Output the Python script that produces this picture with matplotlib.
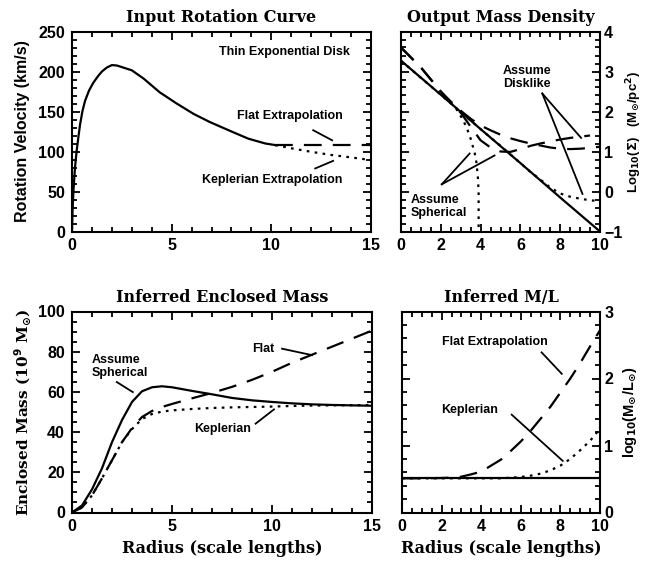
import matplotlib
matplotlib.use('Agg')
import matplotlib.pyplot as plt
from matplotlib.ticker import MultipleLocator

plt.rcParams['font.family'] = ['Liberation Sans', 'DejaVu Sans']
plt.rcParams['font.weight'] = 'bold'
plt.rcParams['mathtext.fontset'] = 'dejavusans'
plt.rcParams['mathtext.default'] = 'bf'

# ---- Input rotation curve (km/s vs scale lengths)
rc_r = [0, 0.03, 0.07, 0.15, 0.23, 0.32, 0.4, 0.52, 0.65, 0.85, 1.07, 1.3,
        1.5, 1.75, 2.0, 2.25, 2.5, 3.0, 3.6, 4.4, 5.25, 6.1, 6.9, 7.45, 8.0,
        8.85, 9.7, 10.2]
rc_v = [0, 28, 50, 80, 100, 118, 133, 150, 163, 176, 186, 194, 200, 205,
        208, 207.5, 205.5, 201.5, 191, 174, 160, 147, 137, 131, 125, 116, 110,
        108]
flat_r = [10.2, 15]
flat_v = [108, 108]
kep_r = [10.2, 11, 12, 13, 14, 15]
kep_v = [108, 104, 99.6, 95.7, 92.6, 89.3]

# ---- Output mass density, log10(Sigma)
true_r = [0, 2, 4, 6, 8, 10]
true_sig = [3.27, 2.42, 1.56, 0.71, -0.15, -1.0]
disk_flat_r = [0, 0.5, 1, 1.5, 2, 2.5, 3, 3.5, 4, 4.5, 5, 5.5, 6, 6.5, 7,
               7.5, 8, 8.5, 9, 9.5, 10]
disk_flat_sig = [3.60, 3.35, 3.10, 2.80, 2.50, 2.25, 2.02, 1.82, 1.65, 1.53,
                 1.42, 1.33, 1.26, 1.20, 1.15, 1.10, 1.07, 1.06, 1.07, 1.09, 1.12]
sph_flat_r = [0, 0.5, 1, 1.5, 2, 2.5, 3, 3.5, 4, 4.5, 5, 5.5, 6, 6.5, 7,
              7.5, 8, 8.5, 9, 9.5]
sph_flat_sig = [3.60, 3.35, 3.10, 2.80, 2.50, 2.22, 1.97, 1.62, 1.28, 1.10,
                1.00, 0.99, 1.06, 1.14, 1.20, 1.25, 1.30, 1.34, 1.37, 1.40]
sph_kep_r = [2.5, 2.8, 3.1, 3.3, 3.5, 3.7, 3.8, 3.87, 3.9, 3.9]
sph_kep_sig = [2.22, 2.05, 1.80, 1.60, 1.32, 0.97, 0.70, 0.30, 0.0, -1.0]
disk_kep_r = [0, 1, 2, 3, 4, 5, 6, 6.5, 7, 7.5, 8, 8.5, 9, 9.5, 10]
disk_kep_sig = [3.27, 2.84, 2.42, 1.99, 1.56, 1.14, 0.71, 0.49, 0.30, 0.10,
                -0.05, -0.13, -0.18, -0.22, -0.24]

# ---- Inferred enclosed mass (1e9 Msun)
mass_r = [0, 0.5, 1, 1.5, 2, 2.5, 3, 3.5, 4, 4.5, 5, 6, 7, 8, 9, 10, 11, 12,
          13, 14, 15]
mass_sph = [0, 3.5, 11.5, 22, 35, 46, 55, 60.3, 62.3, 62.8, 62.3, 60.5, 58.8,
            57, 55.8, 55, 54.3, 53.8, 53.5, 53.3, 53.1]
mass_flat = [0, 2.5, 8.5, 17, 26, 35, 42, 47.5, 50.5, 52.5, 54, 56.8, 59.5,
             62.5, 66, 70, 74.5, 78.5, 82.5, 86.5, 90.5]
mass_kep = [0, 2.5, 8.5, 17, 26, 35, 41.5, 46.5, 49, 50.2, 50.8, 51.5, 52,
            52.3, 52.5, 52.7, 53, 53.2, 53.3, 53.4, 53.5]

# ---- Inferred M/L
ml_r = [0, 1, 2, 2.5, 3, 3.5, 4, 4.5, 5, 5.5, 6, 6.5, 7, 7.5, 8, 8.5, 9, 9.5, 10]
ml_true = [0.51] * len(ml_r)
ml_flat = [0.51, 0.51, 0.515, 0.52, 0.535, 0.57, 0.61, 0.70, 0.79, 0.92, 1.06,
           1.22, 1.40, 1.58, 1.79, 2.0, 2.23, 2.48, 2.72]
ml_kep = [0.51, 0.51, 0.51, 0.51, 0.51, 0.51, 0.51, 0.51, 0.51, 0.52, 0.53,
          0.55, 0.58, 0.63, 0.70, 0.80, 0.93, 1.07, 1.25]

W, H = 646, 565
fig = plt.figure(figsize=(W / 100, H / 100), dpi=100)


def box(l, r, t, b):
    return [l / W, 1 - b / H, (r - l) / W, (b - t) / H]


ax1 = fig.add_axes(box(72, 371, 31.5, 231.5))
ax2 = fig.add_axes(box(401, 600, 31.5, 231.5))
ax3 = fig.add_axes(box(72, 372, 311.5, 512.5))
ax4 = fig.add_axes(box(402, 600, 311.5, 512.5))

lw = 1.6
dash = (0, (8, 5))
dot = (0, (1.2, 2.4))
tfont = dict(family='DejaVu Serif', weight='bold', size=11.5)
afont = dict(size=9, weight='bold')


def style(ax, xmaj, xmin, ymaj, ymin, right=False):
    for s in ax.spines.values():
        s.set_linewidth(1.5)
    ax.xaxis.set_major_locator(MultipleLocator(xmaj))
    ax.xaxis.set_minor_locator(MultipleLocator(xmin))
    ax.yaxis.set_major_locator(MultipleLocator(ymaj))
    ax.yaxis.set_minor_locator(MultipleLocator(ymin))
    ax.tick_params(which='both', direction='in', top=True, right=True,
                   labelsize=11.5, width=1.3, pad=5)
    ax.tick_params(which='major', length=6)
    ax.tick_params(which='minor', length=3.5)
    if right:
        ax.tick_params(axis='y', labelleft=False, labelright=True, pad=3)
    for lab in ax.get_xticklabels() + ax.get_yticklabels():
        lab.set_fontweight('bold')


# panel 1
ax1.plot(rc_r, rc_v, color='black', lw=lw)
ax1.plot(flat_r, flat_v, color='black', lw=lw, linestyle=dash)
ax1.plot(kep_r, kep_v, color='black', lw=lw, linestyle=dot)
ax1.set_xlim(0, 15)
ax1.set_ylim(0, 250)
style(ax1, 5, 1, 50, 10)
ax1.set_title('Input Rotation Curve', pad=7, **tfont)
ax1.set_ylabel('Rotation Velocity (km/s)', fontsize=11.5, fontweight='bold', labelpad=6)
ax1.text(13.95, 224, 'Thin Exponential Disk', ha='right', va='center', **afont)
ax1.text(13.6, 144, 'Flat Extrapolation', ha='right', va='center', **afont)
ax1.text(13.55, 64, 'Keplerian Extrapolation', ha='right', va='center', **afont)
ax1.plot([12.1, 13.05], [126.6, 114], color='black', lw=1.3)
ax1.plot([12.2, 13.1], [78.8, 88.3], color='black', lw=1.3)

# panel 2
ax2.plot(true_r, true_sig, color='black', lw=lw)
ax2.plot(disk_flat_r, disk_flat_sig, color='black', lw=lw, linestyle=dash)
ax2.plot(sph_flat_r, sph_flat_sig, color='black', lw=lw, linestyle=dash)
ax2.plot(sph_kep_r, sph_kep_sig, color='black', lw=lw, linestyle=dot)
ax2.plot(disk_kep_r, disk_kep_sig, color='black', lw=lw, linestyle=dot)
ax2.set_xlim(0, 10)
ax2.set_ylim(-1, 4)
style(ax2, 2, 0.5, 1, 0.2, right=True)
ax2.set_title('Output Mass Density', pad=7, **tfont)
ax2.yaxis.set_label_position('right')
ax2.set_ylabel(r'Log$_{10}$($\Sigma$)   (M$_{\odot}$/pc$^2$)', fontsize=9.5,
               fontweight='bold', labelpad=1)
ax2.text(6.33, 2.85, 'Assume\nDisklike', ha='center', va='center',
         linespacing=1.05, **afont)
ax2.plot([7.1, 9.05], [2.45, 1.34], color='black', lw=1.3)
ax2.plot([7.1, 9.12], [2.45, -0.06], color='black', lw=1.3)
ax2.text(0.5, -0.37, 'Assume\nSpherical', ha='left', va='center',
         linespacing=1.05, **afont)
ax2.plot([2.05, 3.45], [0.18, 0.95], color='black', lw=1.3)
ax2.plot([2.05, 4.7], [0.18, 0.9], color='black', lw=1.3)

# panel 3
ax3.plot(mass_r, mass_sph, color='black', lw=lw)
ax3.plot(mass_r, mass_flat, color='black', lw=lw, linestyle=dash)
ax3.plot(mass_r, mass_kep, color='black', lw=lw, linestyle=dot)
ax3.set_xlim(0, 15)
ax3.set_ylim(0, 100)
style(ax3, 5, 1, 20, 5)
ax3.set_title('Inferred Enclosed Mass', pad=7, **tfont)
ax3.set_ylabel(r'Enclosed Mass (10$^9$ M$_{\odot}$)', family='DejaVu Serif',
               fontsize=11, fontweight='bold', labelpad=4)
ax3.set_xlabel('Radius (scale lengths)', family='DejaVu Serif', fontsize=11.5,
               fontweight='bold', labelpad=4)
ax3.text(1.0, 72.7, 'Assume\nSpherical', ha='left', va='center',
         linespacing=1.05, **afont)
ax3.plot([2.24, 3.04], [64.9, 59.9], color='black', lw=1.3)
ax3.text(9.0, 81.5, 'Flat', ha='left', va='center', **afont)
ax3.plot([10.5, 12.0], [81.5, 78.3], color='black', lw=1.3)
ax3.text(6.1, 41.7, 'Keplerian', ha='left', va='center', **afont)
ax3.plot([9.18, 10.1], [44.2, 51.3], color='black', lw=1.3)

# panel 4
ax4.plot(ml_r, ml_true, color='black', lw=lw)
ax4.plot(ml_r, ml_flat, color='black', lw=lw, linestyle=dash)
ax4.plot(ml_r, ml_kep, color='black', lw=lw, linestyle=dot)
ax4.set_xlim(0, 10)
ax4.set_ylim(0, 3)
style(ax4, 2, 0.5, 1, 0.2, right=True)
ax4.set_title('Inferred M/L', pad=7, **tfont)
ax4.yaxis.set_label_position('right')
ax4.set_ylabel(r'log$_{10}$(M$_{\odot}$/L$_{\odot}$)', fontsize=10.5,
               fontweight='bold', labelpad=6)
ax4.set_xlabel('Radius (scale lengths)', family='DejaVu Serif', fontsize=11.5,
               fontweight='bold', labelpad=4)
ax4.text(2.0, 2.54, 'Flat Extrapolation', ha='left', va='center', **afont)
ax4.plot([7.05, 8.07], [2.39, 2.07], color='black', lw=1.3)
ax4.text(2.0, 1.53, 'Keplerian', ha='left', va='center', **afont)
ax4.plot([5.54, 8.12], [1.46, 0.77], color='black', lw=1.3)

fig.savefig('out.png', dpi=100)
